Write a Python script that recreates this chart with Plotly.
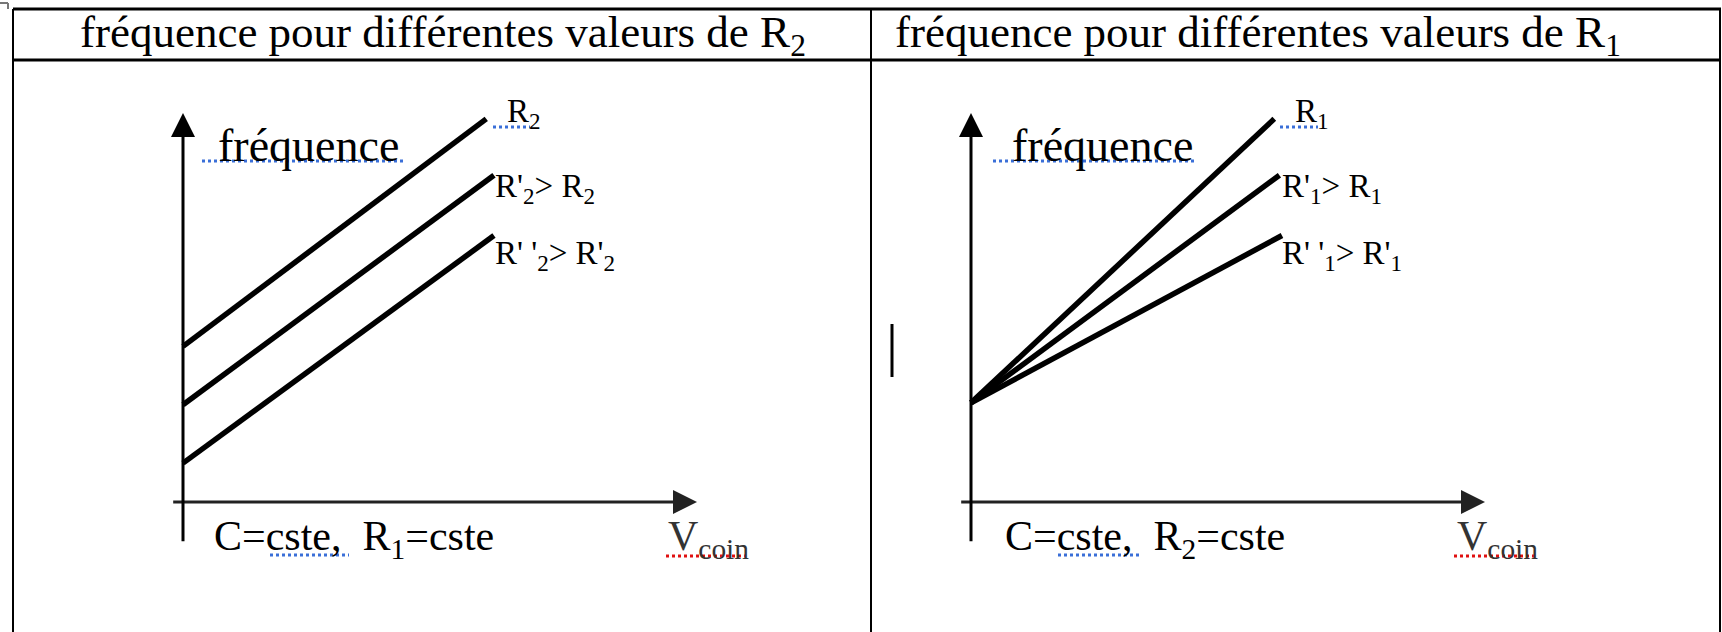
import plotly.graph_objects as go

W, H = 1722, 632

# ---------------- data ----------------
# left panel: frequency vs control voltage for different R2 (parallel lines)
V_left_start = [0.0, 0.0, 0.0]
V_left_end = [5.9, 6.05, 6.05]
f_left_start = [4.0, 2.5, 1.0]
f_left_end = [9.85, 8.4, 6.85]
labels_left = ["R<sub>2</sub>", "R'<sub>2</sub>&gt; R<sub>2</sub>", "R' '<sub>2</sub>&gt; R'<sub>2</sub>"]

# right panel: frequency vs control voltage for different R1 (common origin)
V_right_start = [0.0, 0.0, 0.0]
V_right_end = [5.9, 6.0, 6.05]
f_right_start = [2.55, 2.55, 2.55]
f_right_end = [9.85, 8.4, 6.85]
labels_right = ["R<sub>1</sub>", "R'<sub>1</sub>&gt; R<sub>1</sub>", "R' '<sub>1</sub>&gt; R'<sub>1</sub>"]

# axis arrows extent (tail, tip)
V_axis = [-0.22, 10.0]
f_axis = [-1.05, 10.0]

headers = ["fréquence pour différentes valeurs de R<sub>2</sub>",
           "fréquence pour différentes valeurs de R<sub>1</sub>"]
ylabel = "fréquence"
xnotes = ["C=cste,  R<sub>1</sub>=cste", "C=cste,  R<sub>2</sub>=cste"]
xlabel = "V<sub>coin</sub>"

# ---------------- layout helpers ----------------
FONT = "Liberation Serif, Times New Roman, serif"
X_SCALE = 51.4     # px per unit of V
Y_SCALE = 38.9     # px per unit of f
ORIGIN_Y = 502     # px
ORIGINS_X = [183, 971]
XDOM_PX = [(20, 860), (880, 1715)]
YDOM_PX = (65, 625)


def px(x):
    return x / W


def py(y):
    return 1 - y / H


fig = go.Figure()

panels = [
    (V_left_start, V_left_end, f_left_start, f_left_end, labels_left),
    (V_right_start, V_right_end, f_right_start, f_right_end, labels_right),
]

label_pos = [  # (left px, middle px) of the line labels
    [(505, 114), (493, 188), (493, 256)],
    [(1293, 114), (1280, 188), (1280, 256)],
]

annotations = []
shapes = []

for i, (vs, ve, fs, fe, labs) in enumerate(panels):
    xa = "x" if i == 0 else "x2"
    ya = "y" if i == 0 else "y2"
    for k in range(3):
        fig.add_trace(go.Scatter(x=[vs[k], ve[k]], y=[fs[k], fe[k]], mode="lines",
                                 line=dict(color="black", width=5.5),
                                 xaxis=xa, yaxis=ya, showlegend=False, hoverinfo="skip"))
    # axis arrows
    annotations.append(dict(x=V_axis[1], y=0, ax=V_axis[0], ay=0, xref=xa, yref=ya,
                            axref=xa, ayref=ya, text="", showarrow=True, arrowhead=2,
                            arrowsize=1.6, arrowwidth=3, arrowcolor="#222"))
    annotations.append(dict(x=0, y=f_axis[1], ax=0, ay=f_axis[0], xref=xa, yref=ya,
                            axref=xa, ayref=ya, text="", showarrow=True, arrowhead=2,
                            arrowsize=1.6, arrowwidth=3, arrowcolor="black"))
    for k in range(3):
        lx, ly = label_pos[i][k]
        annotations.append(dict(x=px(lx), y=py(ly), xref="paper", yref="paper",
                                text=labs[k], showarrow=False, xanchor="left", yanchor="middle",
                                font=dict(family=FONT, size=33, color="black")))

# headers
for x0, t in zip([78, 893], headers):
    annotations.append(dict(x=px(x0), y=py(35), xref="paper", yref="paper", text=t,
                            showarrow=False, xanchor="left", yanchor="middle",
                            font=dict(family=FONT, size=45, color="black")))
# y labels
for x0 in [216, 1010]:
    annotations.append(dict(x=px(x0), y=py(145), xref="paper", yref="paper", text=ylabel,
                            showarrow=False, xanchor="left", yanchor="middle",
                            font=dict(family=FONT, size=46, color="black")))
# x notes
for x0, t in zip([212, 1003], xnotes):
    annotations.append(dict(x=px(x0), y=py(539), xref="paper", yref="paper", text=t,
                            showarrow=False, xanchor="left", yanchor="middle",
                            font=dict(family=FONT, size=42, color="black")))
for x0 in [666, 1455]:
    annotations.append(dict(x=px(x0), y=py(539), xref="paper", yref="paper", text=xlabel,
                            showarrow=False, xanchor="left", yanchor="middle",
                            font=dict(family=FONT, size=42, color="#333")))


# table borders
def line(x0, y0, x1, y1, w=3, color="black", dash="solid"):
    shapes.append(dict(type="line", xref="paper", yref="paper", x0=px(x0), y0=py(y0),
                       x1=px(x1), y1=py(y1), line=dict(color=color, width=w, dash=dash)))


line(13, 9, 1721, 9)
line(13, 60, 1721, 60)
line(13, 9, 13, 632, w=2)
line(871, 9, 871, 632, w=2)
line(1720, 9, 1720, 632, w=2)
# small corner mark
line(0, 3, 8, 3, w=2, color="#777")
line(8, 3, 8, 9, w=2, color="#777")
# text cursor
line(892, 324, 892, 377, w=3)
# spell-check underlines
blue = "#3a6fd8"
for (a, b, y) in [(202, 405, 161), (993, 1195, 161), (493, 530, 127), (1280, 1318, 127),
                  (270, 349, 555), (1058, 1139, 555)]:
    line(a, y, b, y, w=3, color=blue, dash="dot")
for (a, b, y) in [(666, 745, 556), (1454, 1534, 556)]:
    line(a, y, b, y, w=3, color="#e01010", dash="dot")

layout_axes = {}
for i, ((d0, d1), ox) in enumerate(zip(XDOM_PX, ORIGINS_X)):
    name = "xaxis" if i == 0 else "xaxis2"
    yname = "yaxis" if i == 0 else "yaxis2"
    layout_axes[name] = dict(domain=[px(d0), px(d1)],
                             range=[(d0 - ox) / X_SCALE, (d1 - ox) / X_SCALE],
                             visible=False, anchor="y" if i == 0 else "y2")
    layout_axes[yname] = dict(domain=[py(YDOM_PX[1]), py(YDOM_PX[0])],
                              range=[(ORIGIN_Y - YDOM_PX[1]) / Y_SCALE, (ORIGIN_Y - YDOM_PX[0]) / Y_SCALE],
                              visible=False, anchor="x" if i == 0 else "x2")

fig.update_layout(width=W, height=H, margin=dict(l=0, r=0, t=0, b=0),
                  paper_bgcolor="white", plot_bgcolor="rgba(0,0,0,0)",
                  annotations=annotations, shapes=shapes, showlegend=False,
                  **layout_axes)

fig.write_html("out.html", config={"displayModeBar": False},
               post_script="document.body.style.margin='0px';document.body.style.overflow='hidden';")
